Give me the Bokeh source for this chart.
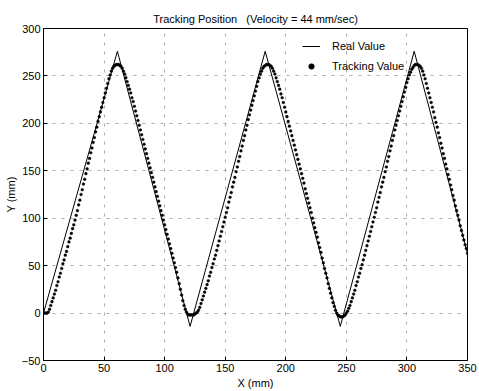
from bokeh.plotting import figure
from bokeh.models import Range1d, Legend, LegendItem
from bokeh.embed import file_html
from bokeh.resources import INLINE

# Real value (triangle path vertices)
real_x = [0, 61, 121, 183, 245, 306, 350]
real_y = [0, 276, -14, 276, -14, 276, 63]

# Tracking value samples, one per mm of X (x = 0 .. 350)
track_y = [
    0, 0, 0, 0, 1, 4, 8, 12, 16, 20, 24, 29, 33, 38, 42, 47, 52, 56, 61, 65,
    70, 75, 79, 84, 89, 93, 98, 103,
    108, 114, 119, 125, 130, 136, 141, 147, 152, 158, 163, 169, 174, 180, 185,
    191, 196, 202, 207, 212, 217, 222, 227, 232, 237, 242, 247, 251, 255,
    258, 260, 261, 262, 262, 262, 261, 260, 258, 255,
    252, 248, 244, 240, 236, 232, 227, 223, 218, 213,
    208, 203, 198, 193, 188, 183, 178, 173, 168, 163,
    158, 153, 148, 143, 138, 133, 128, 123, 118, 113,
    108, 103, 98, 93, 88, 83, 78, 73, 68, 63,
    58, 53, 48, 43, 37, 31, 25, 19, 13, 8,
    4, 1, -1, -2, -2, -2, -2, -2, -1, 0,
    1, 3, 6,
    10, 14, 18, 22, 26, 30, 34, 39, 43, 48,
    52, 57, 61, 66, 71, 76, 81, 86, 91, 96,
    101, 106, 111, 117, 122, 127, 133, 138, 143, 149,
    154, 160, 165, 171, 176, 182, 187, 193, 198, 204,
    209, 214, 219, 224, 229, 234, 239, 244, 248, 252,
    255, 258, 260, 261, 262, 262, 262, 261, 260, 258, 255,
    252, 248, 244, 240, 236, 231, 227, 222, 217, 212,
    207, 202, 197, 192, 187, 182, 177, 172, 167, 162,
    157, 152, 147, 142, 137, 131, 126, 121, 116, 111,
    106, 100, 95, 90, 85, 80, 74, 69, 64, 58,
    53, 47, 42, 37, 31, 26, 21, 16, 11, 7,
    3, 0, -2, -3, -4, -4, -4, -3, -2, 0,
    2, 5,
    8, 12, 16, 20, 24, 29, 33, 38,
    42, 47, 51, 56, 61, 66, 71, 76, 81, 86,
    91, 96, 101, 106, 111, 117, 122, 127, 133, 138,
    143, 149, 154, 160, 165, 171, 176, 182, 187, 193,
    198, 203, 208, 213, 218, 223, 228, 233, 238, 243,
    247, 251, 254, 257, 259, 261, 262, 262, 262, 261,
    260, 258, 255,
    251, 247, 242, 237, 232, 227, 222,
    217, 212, 206, 201, 196, 190, 185, 179, 174, 168,
    163, 157, 152, 146, 141, 135, 130, 124, 119, 113,
    108, 103, 98, 92, 87, 82, 77, 72, 68, 63,
]
track_x = list(range(len(track_y)))

x_ticks = [0, 50, 100, 150, 200, 250, 300, 350]
y_ticks = [-50, 0, 50, 100, 150, 200, 250, 300]

FONT = "Liberation Sans"

p = figure(width=479, height=391, output_backend="svg", toolbar_location=None,
           x_range=Range1d(0, 350), y_range=Range1d(-50, 300),
           title="Tracking Position \u00a0 (Velocity = 44 mm/sec)",
           min_border_left=43, min_border_right=12, min_border_top=28, min_border_bottom=30)

p.title.align = "center"
p.title.text_font = FONT
p.title.text_font_size = "11px"
p.title.text_font_style = "normal"
p.title.text_color = "black"
p.title.standoff = 8
p.title.offset = 0

p.background_fill_color = "white"
p.border_fill_color = "white"
p.outline_line_color = "black"
p.outline_line_width = 1
p.outline_line_alpha = 1

for ax in (p.xaxis[0], p.yaxis[0]):
    ax.major_label_text_font = FONT
    ax.major_label_text_font_size = "11px"
    ax.major_label_text_color = "black"
    ax.axis_label_text_font = FONT
    ax.axis_label_text_font_size = "11px"
    ax.axis_label_text_font_style = "normal"
    ax.axis_label_text_color = "black"
    ax.major_tick_in = 4
    ax.major_tick_out = 0
    ax.minor_tick_in = 0
    ax.minor_tick_out = 0
    ax.axis_line_color = "black"
    ax.major_tick_line_color = "black"
    ax.major_label_standoff = 3
    ax.axis_label_standoff = 2

p.xaxis[0].ticker = x_ticks
p.yaxis[0].ticker = y_ticks
p.xaxis[0].axis_label = "X (mm)"
p.yaxis[0].axis_label = "Y (mm)"

p.xgrid.grid_line_color = "#666666"
p.ygrid.grid_line_color = "#666666"
p.xgrid.grid_line_dash = "3 6"
p.ygrid.grid_line_dash = "3 6"
p.xgrid.grid_line_alpha = 0.55
p.ygrid.grid_line_alpha = 0.55
p.xgrid.ticker = x_ticks
p.ygrid.ticker = y_ticks

r_real = p.line(real_x, real_y, line_color="black", line_width=1)
r_track = p.scatter(track_x, track_y, marker="circle", size=2.7,
                    fill_color="black", line_color="black", line_width=0.5)

legend = Legend(items=[LegendItem(label="Real Value", renderers=[r_real]),
                       LegendItem(label="Tracking Value", renderers=[r_track])],
                location=(259, 287))
legend.border_line_color = None
legend.background_fill_alpha = 0
legend.padding = 0
legend.margin = 0
legend.spacing = 6
legend.glyph_width = 18
legend.glyph_height = 14
legend.label_height = 14
legend.label_standoff = 12
legend.label_text_font = FONT
legend.label_text_font_size = "11px"
legend.label_text_color = "black"
p.add_layout(legend)

open("out.html", "w").write(file_html(p, INLINE))
